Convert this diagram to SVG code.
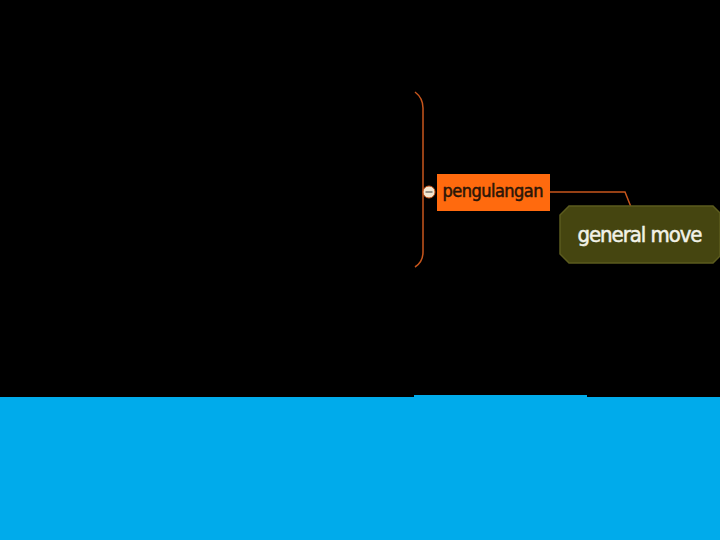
<svg xmlns="http://www.w3.org/2000/svg" width="720" height="540" viewBox="0 0 720 540">
<style>
.lbl{font-family:"DejaVu Sans Condensed","DejaVu Sans",sans-serif}
.conn{fill:none;stroke:#c8561c;stroke-width:1.5}
</style>
<rect x="0" y="0" width="720" height="540" fill="#000"/>
<rect x="0" y="397" width="720" height="143" fill="#00abeb"/>
<rect x="414" y="395" width="173" height="3" fill="#00abeb"/>
<g id="connectors">
<path class="conn" d="M415,92 Q423,98 423,108 L423,252 Q423,262 415,267" stroke="#a0502a"/>
<path class="conn" d="M550,192 L625,192 L631,207"/>
</g>
<g id="collapse">
<circle cx="429" cy="192" r="6" fill="#f2e6d0" stroke="#c8561c" stroke-width="1"/>
<line x1="425.5" y1="192" x2="432.5" y2="192" stroke="#555" stroke-width="1.2"/>
</g>
<g id="pengulangan">
<rect x="437" y="174" width="113" height="37" fill="#ff6a0e"/>
<text class="lbl" x="493" y="197" font-size="18" fill="#2a1608" stroke="#2a1608" stroke-width="0.5" text-anchor="middle" textLength="101">pengulangan</text>
</g>
<g id="general-move">
<path d="M569,206 L713,206 L720,213 L720,256 L713,263 L569,263 L560,254 L560,215 Z" fill="#454510" stroke="#5b5b1e" stroke-width="1.5"/>
<text class="lbl" x="640" y="242" font-size="22" fill="#f2f2e8" stroke="#f2f2e8" stroke-width="0.5" text-anchor="middle" textLength="125">general move</text>
</g>
</svg>
